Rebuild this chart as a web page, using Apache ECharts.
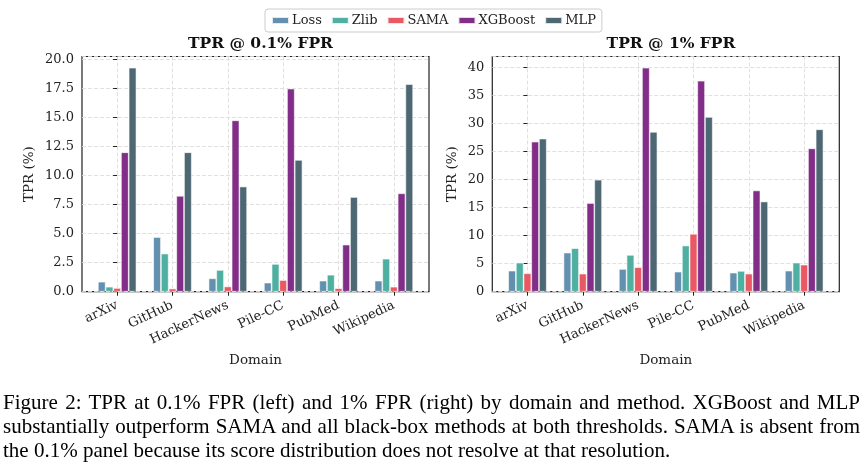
<!DOCTYPE html>
<html>
<head>
<meta charset="utf-8">
<script src="https://cdn.jsdelivr.net/npm/echarts@6/dist/echarts.min.js"></script>
<style>
  html, body { margin: 0; padding: 0; background: #fff; }
  #chart { position: absolute; left: 0; top: 0; width: 867px; height: 468px; }
  #caption { position: absolute; left: 3px; top: 390px; width: 857px;
    font-family: "Liberation Serif", "Times New Roman", serif; font-size: 21px; line-height: 24px; color: #000; }
  #caption div { text-align: justify; text-align-last: justify; white-space: nowrap; }
  #caption div.last { text-align-last: left; }
</style>
</head>
<body>
<div id="chart"></div>
<div id="caption">
  <div>Figure 2: TPR at 0.1% FPR (left) and 1% FPR (right) by domain and method. XGBoost and MLP</div>
  <div>substantially outperform SAMA and all black-box methods at both thresholds. SAMA is absent from</div>
  <div class="last">the 0.1% panel because its score distribution does not resolve at that resolution.</div>
</div>
<script>
const domains = ["arXiv", "GitHub", "HackerNews", "Pile-CC", "PubMed", "Wikipedia"];
const methods = ["Loss", "Zlib", "SAMA", "XGBoost", "MLP"];

// TPR @ 0.1% FPR
const loss01 = [0.86, 4.7, 1.15, 0.78, 0.95, 0.95];
const zlib01 = [0.43, 3.28, 1.87, 2.39, 1.46, 2.84];
const sama01 = [0.32, 0.27, 0.45, 1.0, 0.3, 0.43];
const xgb01  = [12.0, 8.25, 14.75, 17.48, 4.05, 8.47];
const mlp01  = [19.28, 12.0, 9.05, 11.34, 8.15, 17.86];

// TPR @ 1% FPR
const loss1 = [3.76, 6.98, 4.06, 3.58, 3.40, 3.76];
const zlib1 = [5.19, 7.77, 6.57, 8.24, 3.71, 5.19];
const sama1 = [3.29, 3.22, 4.37, 10.33, 3.22, 4.83];
const xgb1  = [26.8, 15.83, 40.0, 37.67, 18.08, 25.6];
const mlp1  = [27.34, 20.0, 28.54, 31.2, 16.1, 29.0];

const leftTicks = [0, 2.5, 5, 7.5, 10, 12.5, 15, 17.5, 20];
const rightTicks = [0, 5, 10, 15, 20, 25, 30, 35, 40];

const colors = ["#5b8aab", "#46ab9c", "#e8505b", "#7b2383", "#435f6b"];
const FONT = "DejaVu Serif";

const chart = echarts.init(document.getElementById('chart'), null, { renderer: 'canvas' });

const panels = [
  { vals: [loss01, zlib01, sama01, xgb01, mlp01], ticks: leftTicks, interval: 2.5, fmt: v => v.toFixed(1), nameGap: 46 },
  { vals: [loss1, zlib1, sama1, xgb1, mlp1], ticks: rightTicks, interval: 5, fmt: v => String(v), nameGap: 33 }
];

function ymax(p) {
  let m = 0;
  p.vals.forEach(a => a.forEach(v => { if (v > m) m = v; }));
  return m * 1.05;
}

const grids = [
  { left: 82, right: 438, top: 56.5, bottom: 176.3, show: true, borderColor: '#222', borderWidth: 1.2, backgroundColor: 'transparent' },
  { left: 492.3, right: 27.7, top: 56.5, bottom: 176.3, show: true, borderColor: '#222', borderWidth: 1.2, backgroundColor: 'transparent' }
];

const idx = domains.map((d, i) => i);
const gridLine = { show: true, lineStyle: { color: '#dcdcdc', type: [4, 2], width: 0.9 } };

const xAxes = grids.map((g, k) => ({
  type: 'value', gridIndex: k, min: -0.635, max: 5.635,
  name: 'Domain', nameLocation: 'middle', nameGap: 62,
  nameTextStyle: { fontFamily: FONT, fontSize: 13.5, color: '#222' },
  axisLine: { show: false },
  axisTick: { show: true, customValues: idx, length: 4, inside: false, lineStyle: { color: '#222', width: 1 } },
  axisLabel: { customValues: idx, formatter: v => domains[Math.round(v)], rotate: 25, margin: 13,
    fontFamily: FONT, fontSize: 13, color: '#222' },
  splitLine: gridLine
}));

const yAxes = grids.map((g, k) => ({
  type: 'value', gridIndex: k, min: 0, max: ymax(panels[k]), interval: panels[k].interval,
  name: 'TPR (%)', nameLocation: 'middle', nameGap: panels[k].nameGap,
  nameTextStyle: { fontFamily: FONT, fontSize: 13.5, color: '#222' },
  axisLine: { show: false },
  axisTick: { show: true, length: 4, lineStyle: { color: '#222', width: 1 } },
  axisLabel: { formatter: panels[k].fmt, showMaxLabel: false, margin: 8, fontFamily: FONT, fontSize: 13, color: '#222' },
  splitLine: gridLine
}));

const series = [];
panels.forEach((p, k) => {
  methods.forEach((m, j) => {
    series.push({
      type: 'bar', name: m, xAxisIndex: k, yAxisIndex: k,
      data: p.vals[j].map((v, i) => [i, v]),
      barWidth: 7.7, barGap: '0%',
      itemStyle: { color: colors[j], borderColor: 'rgba(255,255,255,0.85)', borderWidth: 0.7, opacity: 0.95 },
      emphasis: { disabled: true }
    });
  });
});

chart.setOption({
  animation: false,
  backgroundColor: '#fff',
  color: colors,
  title: [
    { text: 'TPR @ 0.1% FPR', left: 255.5, top: 31, textAlign: 'center',
      textStyle: { fontFamily: FONT, fontWeight: 'bold', fontSize: 15.5, color: '#111' } },
    { text: 'TPR @ 1% FPR', left: 666, top: 31, textAlign: 'center',
      textStyle: { fontFamily: FONT, fontWeight: 'bold', fontSize: 15.5, color: '#111' } }
  ],
  legend: {
    data: methods, left: 265, top: 9, padding: [5, 6], itemGap: 9,
    itemWidth: 17, itemHeight: 7, borderColor: '#cccccc', borderWidth: 1, borderRadius: 3,
    icon: 'rect',
    textStyle: { fontFamily: FONT, fontSize: 13, color: '#222', padding: [0, 0, 0, -2] }
  },
  grid: grids,
  xAxis: xAxes,
  yAxis: yAxes,
  series: series
});
</script>
</body>
</html>
